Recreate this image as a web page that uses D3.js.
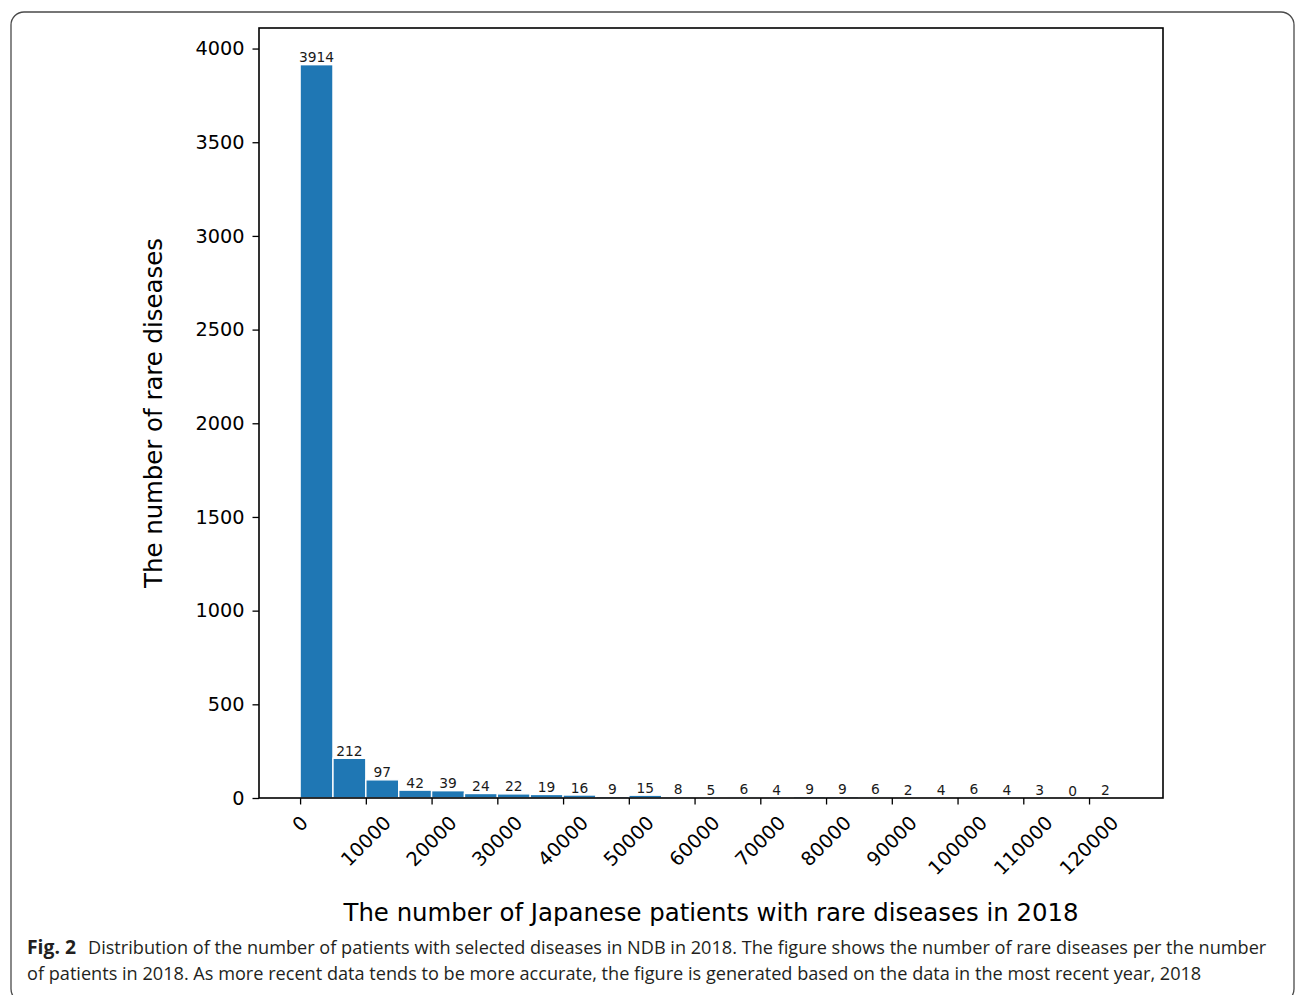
<!DOCTYPE html>
<html>
<head>
<meta charset="utf-8">
<script src="https://cdn.jsdelivr.net/npm/d3@7"></script>
<style>
  html, body { margin: 0; padding: 0; background: #fff; }
  svg { display: block; }
</style>
</head>
<body>
<svg id="fig" width="1296" height="995"></svg>
<script>
// Histogram bins: lower edge of each 5000-patient bin and the number of diseases in it
const binStarts = [0, 5000, 10000, 15000, 20000, 25000, 30000, 35000, 40000, 45000,
  50000, 55000, 60000, 65000, 70000, 75000, 80000, 85000, 90000, 95000,
  100000, 105000, 110000, 115000, 120000];
const diseaseCounts = [3914, 212, 97, 42, 39, 24, 22, 19, 16, 9,
  15, 8, 5, 6, 4, 9, 9, 6, 2, 4,
  6, 4, 3, 0, 2];
const binWidth = 5000;
const xTicks = [0, 10000, 20000, 30000, 40000, 50000, 60000, 70000, 80000, 90000, 100000, 110000, 120000];
const yTicks = [0, 500, 1000, 1500, 2000, 2500, 3000, 3500, 4000];

const xTitle = "The number of Japanese patients with rare diseases in 2018";
const yTitle = "The number of rare diseases";
const captionLead = "Fig. 2";
const captionLine1 = "Distribution of the number of patients with selected diseases in NDB in 2018. The figure shows the number of rare diseases per the number";
const captionLine2 = "of patients in 2018. As more recent data tends to be more accurate, the figure is generated based on the data in the most recent year, 2018";

const svg = d3.select("#fig");
const plot = { left: 259, right: 1163, top: 28, bottom: 798 };
const FONT = "DejaVu Sans, sans-serif";

// Framed panel around the figure and its caption
svg.append("rect")
  .attr("x", 11).attr("y", 12).attr("width", 1283).attr("height", 990)
  .attr("rx", 13).attr("ry", 13)
  .attr("fill", "none").attr("stroke", "#4a4a4a").attr("stroke-width", 1.3);

const xMax = binStarts[binStarts.length - 1] + binWidth;
const xPad = xMax * 0.05;
const x = d3.scaleLinear().domain([-xPad, xMax + xPad]).range([plot.left, plot.right]);
const yMax = d3.max(diseaseCounts) * 1.05;
const y = d3.scaleLinear().domain([0, yMax]).range([plot.bottom, plot.top]);

const bins = binStarts.map((s, i) => ({ x0: s, x1: s + binWidth, n: diseaseCounts[i] }));

// Bars
svg.append("g").selectAll("rect").data(bins).join("rect")
  .attr("x", d => x(d.x0))
  .attr("width", d => x(d.x1) - x(d.x0))
  .attr("y", d => y(d.n))
  .attr("height", d => y(0) - y(d.n))
  .attr("fill", "#1f77b4")
  .attr("stroke", "#ffffff")
  .attr("stroke-width", 1.4);

// Count labels above each bar
svg.append("g").selectAll("text").data(bins).join("text")
  .attr("x", d => x((d.x0 + d.x1) / 2))
  .attr("y", d => y(d.n) - 2.5)
  .attr("text-anchor", "middle")
  .attr("font-family", FONT)
  .attr("font-size", 13.8)
  .attr("fill", "#1a1a1a")
  .text(d => d.n);

// Y axis
const yAxis = svg.append("g")
  .attr("transform", `translate(${plot.left},0)`)
  .call(d3.axisLeft(y).tickValues(yTicks).tickSize(6.5).tickPadding(8).tickFormat(d3.format("d")));
yAxis.select(".domain").remove();
yAxis.selectAll(".tick line").attr("stroke", "#000").attr("stroke-width", 1.3);
yAxis.selectAll(".tick text")
  .attr("font-family", FONT).attr("font-size", 19.3).attr("fill", "#000");

// X axis: tick marks, then 45-degree labels centred under each tick
const xAxis = svg.append("g")
  .attr("transform", `translate(0,${plot.bottom})`)
  .call(d3.axisBottom(x).tickValues(xTicks).tickSize(6.5).tickFormat(""));
xAxis.select(".domain").remove();
xAxis.selectAll(".tick line").attr("stroke", "#000").attr("stroke-width", 1.3);

const tickFs = 19.3;
const labelTop = plot.bottom + 13.5;
const xLabels = svg.append("g").selectAll("text").data(xTicks).join("text")
  .attr("text-anchor", "middle")
  .attr("dy", "0.346em")
  .attr("font-family", FONT)
  .attr("font-size", tickFs)
  .attr("fill", "#000")
  .text(d => d);
xLabels.each(function (d) {
  const w = this.getComputedTextLength();
  const h = tickFs * 1.164;
  const boxH = (w + h) * Math.SQRT1_2;
  d3.select(this).attr("transform",
    `translate(${x(d)},${labelTop + boxH / 2}) rotate(-45)`);
});

// Spines
svg.append("rect")
  .attr("x", plot.left).attr("y", plot.top)
  .attr("width", plot.right - plot.left).attr("height", plot.bottom - plot.top)
  .attr("fill", "none").attr("stroke", "#000").attr("stroke-width", 1.6);

// Axis titles
svg.append("text")
  .attr("x", (plot.left + plot.right) / 2).attr("y", 921)
  .attr("text-anchor", "middle")
  .attr("font-family", FONT).attr("font-size", 24.4).attr("fill", "#000")
  .text(xTitle);

svg.append("text")
  .attr("transform", `translate(162,${(plot.top + plot.bottom) / 2}) rotate(-90)`)
  .attr("text-anchor", "middle")
  .attr("font-family", FONT).attr("font-size", 24.4).attr("fill", "#000")
  .text(yTitle);

// Caption: each line is squeezed horizontally to its set width
const capFont = "'Open Sans', 'Noto Sans', sans-serif";
function captionText(str, x0, y0, width, bold) {
  const t = svg.append("text")
    .attr("x", 0).attr("y", 0)
    .attr("font-family", capFont)
    .attr("font-weight", bold ? "bold" : "normal")
    .attr("font-size", 19)
    .attr("fill", "#231f20")
    .text(str);
  const natural = t.node().getComputedTextLength();
  const sx = width / natural;
  t.attr("transform", `translate(${x0},${y0}) scale(${sx},1)`);
}
captionText(captionLead, 27, 954, 49, true);
captionText(captionLine1, 88, 954, 1179, false);
captionText(captionLine2, 27, 980, 1175, false);
</script>
</body>
</html>
